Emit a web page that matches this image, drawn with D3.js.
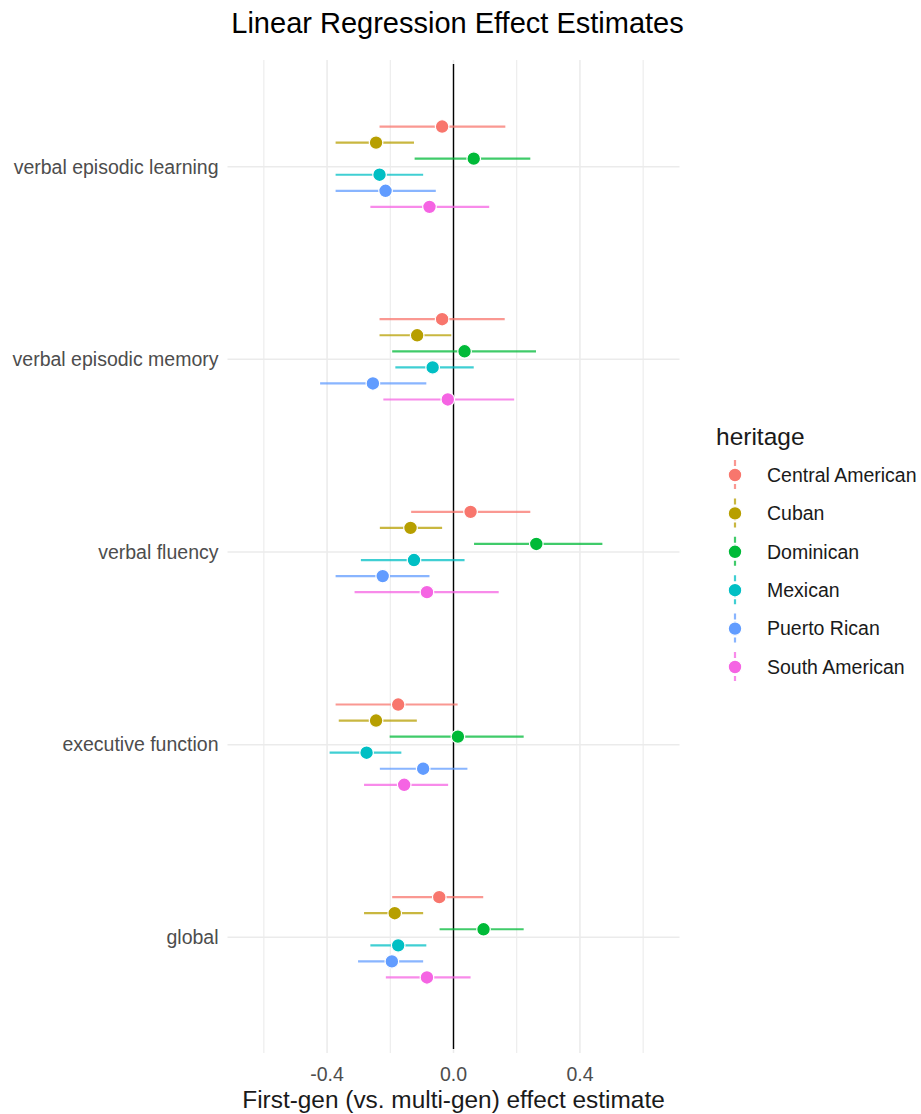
<!DOCTYPE html>
<html>
<head>
<meta charset="utf-8">
<script src="https://cdn.jsdelivr.net/npm/d3@7"></script>
<style>
  html, body { margin: 0; padding: 0; background: #fff; }
  svg { display: block; font-family: "Liberation Sans", Arial, Helvetica, sans-serif; }
</style>
</head>
<body>
<svg id="chart" width="921" height="1114"></svg>
<script>
// Outcomes, top to bottom
const outcomes = ["verbal episodic learning", "verbal episodic memory", "verbal fluency", "executive function", "global"];

// Heritage groups and their colours
const heritage = ["Central American", "Cuban", "Dominican", "Mexican", "Puerto Rican", "South American"];
const heritageColors = ["#F8766D", "#B79F00", "#00BA38", "#00BFC4", "#619CFF", "#F564E3"];

// Effect estimates per group, in outcome order
const estCentralAmerican = [-0.036, -0.036, 0.054, -0.175, -0.045];
const estCuban           = [-0.245, -0.115, -0.136, -0.245, -0.186];
const estDominican       = [0.064, 0.035, 0.262, 0.014, 0.095];
const estMexican         = [-0.234, -0.066, -0.125, -0.275, -0.175];
const estPuertoRican     = [-0.215, -0.255, -0.224, -0.096, -0.195];
const estSouthAmerican   = [-0.076, -0.018, -0.084, -0.156, -0.084];

// Lower confidence bounds
const loCentralAmerican = [-0.234, -0.234, -0.134, -0.373, -0.194];
const loCuban           = [-0.373, -0.234, -0.233, -0.363, -0.283];
const loDominican       = [-0.123, -0.194, 0.065, -0.202, -0.044];
const loMexican         = [-0.373, -0.184, -0.293, -0.392, -0.263];
const loPuertoRican     = [-0.373, -0.422, -0.373, -0.233, -0.302];
const loSouthAmerican   = [-0.263, -0.222, -0.313, -0.283, -0.214];

// Upper confidence bounds
const hiCentralAmerican = [0.164, 0.162, 0.243, 0.013, 0.094];
const hiCuban           = [-0.125, -0.007, -0.036, -0.116, -0.096];
const hiDominican       = [0.243, 0.261, 0.471, 0.222, 0.222];
const hiMexican         = [-0.096, 0.064, 0.035, -0.165, -0.086];
const hiPuertoRican     = [-0.056, -0.086, -0.076, 0.044, -0.096];
const hiSouthAmerican   = [0.113, 0.192, 0.143, -0.017, 0.054];

const xTicks = [-0.4, 0.0, 0.4];
const xMinorTicks = [-0.6, -0.2, 0.2, 0.6];

const estimates = [estCentralAmerican, estCuban, estDominican, estMexican, estPuertoRican, estSouthAmerican];
const lowers = [loCentralAmerican, loCuban, loDominican, loMexican, loPuertoRican, loSouthAmerican];
const uppers = [hiCentralAmerican, hiCuban, hiDominican, hiMexican, hiPuertoRican, hiSouthAmerican];

const rows = [];
heritage.forEach((h, gi) => {
  outcomes.forEach((o, oi) => {
    rows.push({ group: h, gi, outcome: o, est: estimates[gi][oi], lo: lowers[gi][oi], hi: uppers[gi][oi] });
  });
});

const svg = d3.select("#chart");
const panel = { left: 227.5, right: 679.5, top: 60, bottom: 1053 };

const x = d3.scaleLinear().domain([-0.715, 0.715]).range([panel.left, panel.right]);
const y = d3.scalePoint().domain(outcomes).range([166.7, 937.3]);
const color = d3.scaleOrdinal().domain(heritage).range(heritageColors);
const dodgeWidth = 0.5;
const dodge = gi => (gi - (heritage.length - 1) / 2) * (dodgeWidth / heritage.length) * y.step();

// Grid
const grid = svg.append("g");
grid.selectAll("line.minor").data(xMinorTicks).join("line")
  .attr("x1", d => x(d)).attr("x2", d => x(d))
  .attr("y1", panel.top).attr("y2", panel.bottom)
  .attr("stroke", "#ebebeb").attr("stroke-width", 1.1);
grid.selectAll("line.major").data(xTicks).join("line")
  .attr("x1", d => x(d)).attr("x2", d => x(d))
  .attr("y1", panel.top).attr("y2", panel.bottom)
  .attr("stroke", "#ebebeb").attr("stroke-width", 1.5);
grid.selectAll("line.h").data(outcomes).join("line")
  .attr("x1", panel.left).attr("x2", panel.right)
  .attr("y1", d => y(d)).attr("y2", d => y(d))
  .attr("stroke", "#ebebeb").attr("stroke-width", 1.5);

// Reference line at zero
svg.append("line")
  .attr("x1", x(0)).attr("x2", x(0))
  .attr("y1", panel.top + 4).attr("y2", panel.bottom - 4)
  .attr("stroke", "#000").attr("stroke-width", 1.4);

// Confidence intervals
svg.append("g").selectAll("line").data(rows).join("line")
  .attr("x1", d => x(d.lo)).attr("x2", d => x(d.hi))
  .attr("y1", d => y(d.outcome) + dodge(d.gi))
  .attr("y2", d => y(d.outcome) + dodge(d.gi))
  .attr("stroke", d => color(d.group))
  .attr("stroke-opacity", 0.75)
  .attr("stroke-width", 2.2);

// Point estimates
svg.append("g").selectAll("circle").data(rows).join("circle")
  .attr("cx", d => x(d.est))
  .attr("cy", d => y(d.outcome) + dodge(d.gi))
  .attr("r", 6.8)
  .attr("fill", d => color(d.group))
  .attr("stroke", "#fff").attr("stroke-width", 1.2);

// Axes text
svg.append("g").selectAll("text").data(outcomes).join("text")
  .attr("x", panel.left - 9).attr("y", d => y(d))
  .attr("dy", "0.35em").attr("text-anchor", "end")
  .attr("fill", "#4d4d4d").attr("font-size", 19.5)
  .text(d => d);

svg.append("g").selectAll("text").data(xTicks).join("text")
  .attr("x", d => x(d)).attr("y", 1074)
  .attr("dy", "0.35em").attr("text-anchor", "middle")
  .attr("fill", "#4d4d4d").attr("font-size", 19.5)
  .text(d => d3.format(".1f")(d).replace("−", "-"));

svg.append("text")
  .attr("x", (panel.left + panel.right) / 2).attr("y", 1099)
  .attr("dy", "0.35em").attr("text-anchor", "middle")
  .attr("fill", "#1a1a1a").attr("font-size", 24.4)
  .text("First-gen (vs. multi-gen) effect estimate");

svg.append("text")
  .attr("x", (panel.left + panel.right) / 2 + 4).attr("y", 23)
  .attr("dy", "0.35em").attr("text-anchor", "middle")
  .attr("fill", "#000").attr("font-size", 29)
  .text("Linear Regression Effect Estimates");

// Legend
const legend = svg.append("g");
legend.append("text")
  .attr("x", 716).attr("y", 436).attr("dy", "0.35em")
  .attr("fill", "#1a1a1a").attr("font-size", 24.5)
  .text("heritage");
const item = legend.selectAll("g.item").data(heritage).join("g")
  .attr("transform", (d, i) => `translate(735, ${475 + i * 38.4})`);
item.append("line")
  .attr("x1", 0).attr("x2", 0).attr("y1", -15).attr("y2", 14)
  .attr("stroke", d => color(d)).attr("stroke-opacity", 0.75)
  .attr("stroke-width", 2.2).attr("stroke-dasharray", "6,2");
item.append("circle")
  .attr("r", 6.8).attr("fill", d => color(d))
  .attr("stroke", "#fff").attr("stroke-width", 1.2);
item.append("text")
  .attr("x", 32).attr("dy", "0.35em")
  .attr("fill", "#1a1a1a").attr("font-size", 19.5)
  .text(d => d);
</script>
</body>
</html>
